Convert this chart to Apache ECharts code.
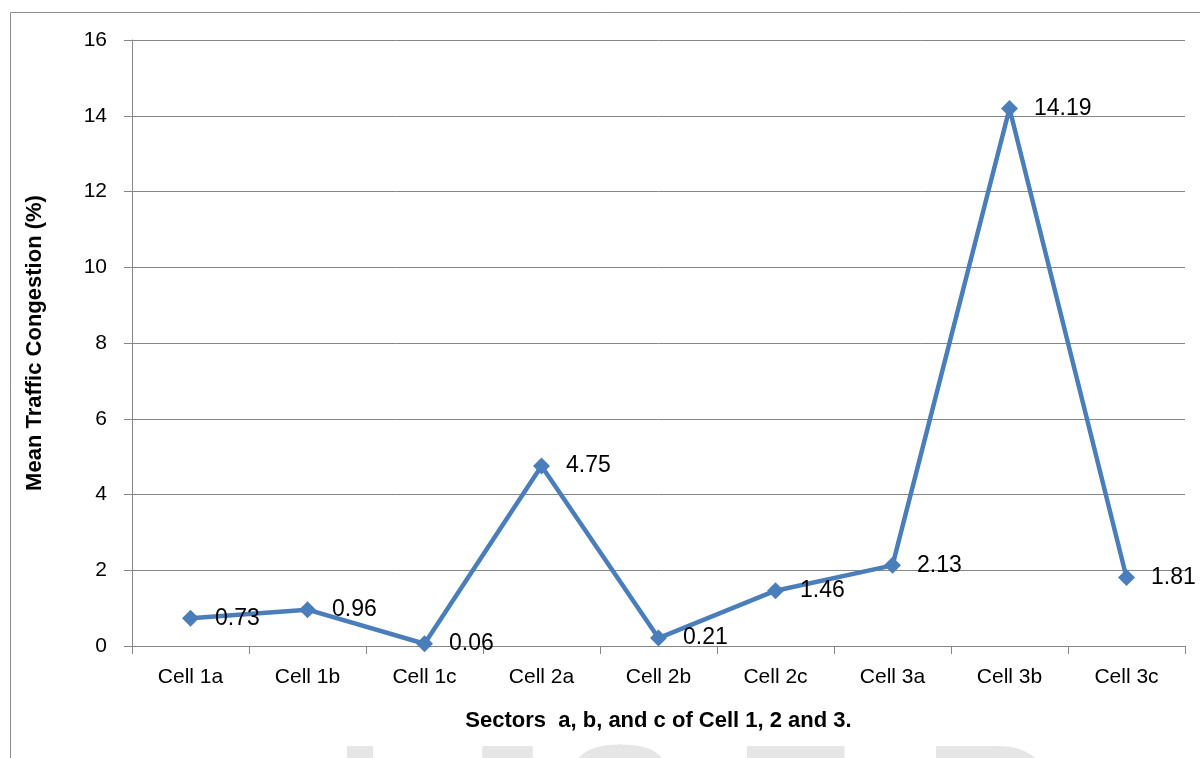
<!DOCTYPE html>
<html><head><meta charset="utf-8">
<script src="https://cdn.jsdelivr.net/npm/echarts@6/dist/echarts.min.js"></script>
<style>html,body{margin:0;padding:0;background:#fff}#c{width:1200px;height:758px}</style>
</head><body><div id="c"></div>
<script>
const categories = ['Cell 1a','Cell 1b','Cell 1c','Cell 2a','Cell 2b','Cell 2c','Cell 3a','Cell 3b','Cell 3c'];
const congestion = [0.73, 0.96, 0.06, 4.75, 0.21, 1.46, 2.13, 14.19, 1.81];
const yTicks = {min: 0, max: 16, interval: 2};
const xTitle = 'Sectors  a, b, and c of Cell 1, 2 and 3.';
const yTitle = 'Mean Traffic Congestion (%)';
const watermark = [['I',335],['J',445],['S',560],['E',735],['R',924]];

const chart = echarts.init(document.getElementById('c'));
const font = 'Liberation Sans';
chart.setOption({
  backgroundColor: '#fff',
  animation: false,
  textStyle: {fontFamily: font},
  graphic: [
    {type:'rect', z:-10, shape:{x:10.5,y:12.5,width:1400,height:900}, style:{fill:'none',stroke:'#8c8c8c',lineWidth:1}, silent:true},
  ].concat(watermark.map(w => ({type:'text', z:-20, x:w[1], y:730, style:{text:w[0], fill:'#e6e6e6', font:'bold 180px "Liberation Sans"', verticalAlign:'top'}, silent:true}))),
  grid: {left:132, right:15, top:40, bottom:112, containLabel:false},
  xAxis: {
    type:'category', data:categories, boundaryGap:true,
    axisLine:{lineStyle:{color:'#868686',width:1}},
    axisTick:{show:true, alignWithLabel:false, length:8, lineStyle:{color:'#868686'}},
    axisLabel:{color:'#000', fontSize:21, margin:21, fontFamily:font},
    name: xTitle, nameLocation:'middle', nameGap:64,
    nameTextStyle:{color:'#000', fontSize:22, fontWeight:'bold', fontFamily:font}
  },
  yAxis: {
    type:'value', min:yTicks.min, max:yTicks.max, interval:yTicks.interval,
    axisLine:{show:true, lineStyle:{color:'#868686',width:1}},
    axisTick:{show:true, length:8, lineStyle:{color:'#868686'}},
    splitLine:{show:true, lineStyle:{color:'#868686',width:1}},
    axisLabel:{color:'#000', fontSize:21, margin:25, fontFamily:font},
    name: yTitle, nameLocation:'middle', nameGap:86, nameRotate:90,
    nameTextStyle:{color:'#000', fontSize:22, fontWeight:'bold', fontFamily:font}
  },
  series: [{
    type:'line', data:congestion,
    symbol:'diamond', symbolSize:17,
    lineStyle:{color:'#4a7ebb', width:4.5},
    itemStyle:{color:'#4a7ebb'},
    label:{show:true, position:'right', distance:16, color:'#000', fontSize:23, fontFamily:font}
  }]
});
</script></body></html>
